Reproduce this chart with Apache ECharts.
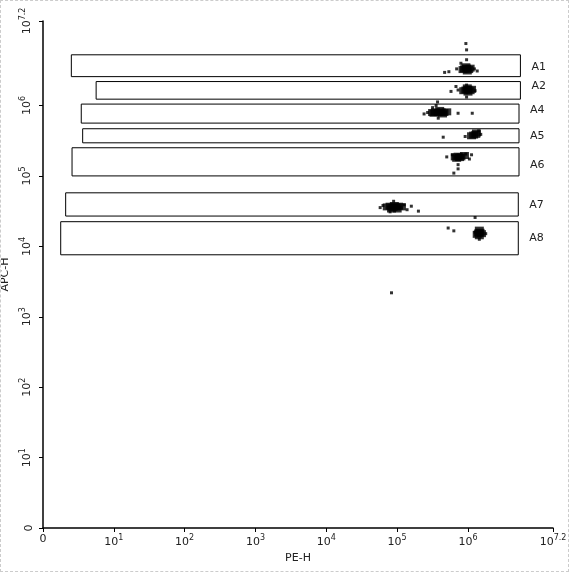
<!DOCTYPE html>
<html><head><meta charset="utf-8">
<script src="https://cdn.jsdelivr.net/npm/echarts@6/dist/echarts.min.js"></script>
<style>html,body{margin:0;padding:0;background:#fff}#c{width:567px;height:570px;border:1px dashed #ccc}</style>
</head><body><div id="c"></div>
<script>
// axes in log10 units (0 shown as "0")
var xTicks = [0,1,2,3,4,5,6,7.2];
var yTicks = [0,1,2,3,4,5,6,7.2];
// gates
var gateNames = ['A1','A2','A4','A5','A6','A7','A8'];
var gateX1 = [0.40,0.75,0.54,0.56,0.41,0.32,0.25];
var gateX2 = [6.74,6.74,6.72,6.72,6.72,6.71,6.71];
var gateY1 = [6.41,6.09,5.75,5.47,5.00,4.43,3.88];
var gateY2 = [6.72,6.34,6.02,5.67,5.40,4.76,4.35];
var labelY = [6.55,6.28,5.94,5.57,5.15,4.59,4.12];
// events (log units)
var dense = [
 [5.95,6.52],[5.98,6.53],[6.01,6.51],[5.93,6.51],[6.03,6.53],[5.97,6.55],[5.99,6.49],
 [5.97,6.22],[6.0,6.23],[6.03,6.21],[5.94,6.21],[6.05,6.23],[5.99,6.25],[6.0,6.19],
 [5.5,5.9],[5.54,5.91],[5.58,5.9],[5.62,5.91],[5.66,5.9],[5.7,5.91],[5.6,5.93],[5.52,5.89],[5.64,5.88],
 [6.08,5.58],[6.11,5.59],[6.05,5.57],[6.12,5.61],
 [5.82,5.27],[5.86,5.28],[5.9,5.27],[5.84,5.25],[5.88,5.26],[5.95,5.29],
 [4.86,4.56],[4.9,4.57],[4.94,4.55],[4.98,4.56],[5.02,4.57],[5.06,4.56],[4.96,4.58],[4.92,4.53],[5.0,4.53],
 [6.15,4.19],[6.17,4.2],[6.16,4.15],[6.19,4.18],[6.13,4.17],[6.16,4.23]
];
var sparse = [
 [5.98,6.65],[5.98,6.79],[5.9,6.6],[5.84,6.52],[6.13,6.49],[5.73,6.48],[5.67,6.47],[6.09,6.52],[5.97,6.88],
 [5.76,6.2],[5.86,6.22],[5.98,6.29],[5.98,6.12],[6.1,6.21],[5.83,6.27],
 [5.43,5.9],[5.38,5.88],[5.55,6.0],[5.57,6.05],[5.86,5.89],[6.06,5.89],[5.58,5.82],[5.5,5.97],
 [6.15,5.64],[6.18,5.59],[5.65,5.55],[5.96,5.56],
 [5.97,5.31],[6.05,5.3],[5.86,5.16],[5.86,5.1],[5.8,5.04],[5.78,5.3],[5.7,5.27],[6.02,5.24],
 [4.8,4.58],[4.76,4.55],[5.1,4.59],[5.2,4.57],[5.14,4.52],[4.95,4.64],[4.9,4.49],[5.3,4.5],[6.1,4.41],
 [5.72,4.26],[5.8,4.22],[6.25,4.18],[6.16,4.1],[6.1,4.2],
 [4.92,3.34]
];
var chart = echarts.init(document.getElementById('c'));
function fmt(v){ if(v===0) return '0'; return '10{s|'+(v%1===0?v:v.toFixed(1))+'}'; }
var axisCommon = {
  type:'value', min:0, max:7.2, splitLine:{show:false},
  axisLine:{show:true,lineStyle:{color:'#000',width:1.5}},
  axisTick:{show:true,customValues:xTicks,length:4,lineStyle:{color:'#000'}},
  minorTick:{show:false}
};
chart.setOption({
  animation:false,
  grid:{left:42,right:15,top:20,bottom:43,outerBoundsMode:'none',containLabel:false},
  xAxis:Object.assign({},axisCommon,{
    name:'PE-H',nameLocation:'middle',nameGap:24,nameTextStyle:{color:'#222',fontSize:11,fontFamily:'DejaVu Sans'},
    axisLabel:{customValues:xTicks,formatter:fmt,color:'#222',fontSize:11,fontFamily:'DejaVu Sans',margin:6,
      rich:{s:{fontSize:8,verticalAlign:'top',padding:[0,0,8,0]}}}
  }),
  yAxis:Object.assign({},axisCommon,{
    axisTick:{show:true,customValues:yTicks,length:4,lineStyle:{color:'#000'}},
    name:'APC-H',nameLocation:'middle',nameGap:26,nameTextStyle:{color:'#222',fontSize:11,fontFamily:'DejaVu Sans'},
    axisLabel:{customValues:yTicks,formatter:fmt,rotate:90,color:'#222',fontSize:11,fontFamily:'DejaVu Sans',margin:8,
      rich:{s:{fontSize:8,padding:[0,0,8,0]}}}
  }),
  series:[
    {type:'custom',silent:true,clip:false,
     data:gateNames.map(function(n,i){return [gateX1[i],gateX2[i],gateY1[i],gateY2[i],labelY[i],n];}),
     renderItem:function(p,api){
       var a=api.coord([api.value(0),api.value(3)]), b=api.coord([api.value(1),api.value(2)]);
       var l=api.coord([api.value(1),api.value(4)]);
       return {type:'group',children:[
         {type:'rect',shape:{x:a[0],y:a[1],width:b[0]-a[0],height:b[1]-a[1]},style:{fill:'none',stroke:'#000',lineWidth:1}},
         {type:'text',style:{x:l[0]+11,y:l[1],text:gateNames[p.dataIndex],fill:'#222',fontSize:11,fontFamily:'DejaVu Sans',verticalAlign:'middle'}}
       ]};
     }},
    {type:'scatter',data:dense,symbol:'rect',symbolSize:[9,7],itemStyle:{color:'#000'},silent:true},
    {type:'scatter',data:sparse,symbol:'rect',symbolSize:3,itemStyle:{color:'#000'},silent:true}
  ]
});
</script></body></html>
